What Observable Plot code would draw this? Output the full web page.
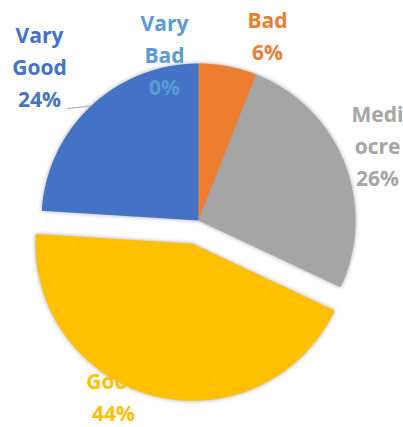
<!DOCTYPE html>
<html><head><meta charset="utf-8">
<script src="https://cdn.jsdelivr.net/npm/d3@7"></script>
<script src="https://cdn.jsdelivr.net/npm/@observablehq/plot@0.6"></script>
<style>html,body{margin:0;padding:0;background:#fff}</style>
</head><body><div id="chart"></div>
<script>
// ---- data ----
const categories = ["Vary Bad", "Bad", "Mediocre", "Good", "Vary Good"];
const values = [0, 6, 26, 44, 24];
const labelTexts = ["Vary\nBad\n0%", "Bad\n6%", "Medi\nocre\n26%", "Good\n44%", "Vary\nGood\n24%"];
const sliceColors = ["#5B9BD5", "#ED7D31", "#A5A5A5", "#FFC000", "#4472C4"];
const explodedCategories = ["Good"];

// ---- layout (pixels) ----
const W = 403, H = 427, R = 157, CX = 198, CY = 220, EXPLODE_PX = 24;
// label block centres, in pixels
const labelCentres = {
  "Vary Bad": [164, 52], "Bad": [267, 33], "Mediocre": [377, 143],
  "Good": [113, 394], "Vary Good": [39, 64]
};
const leaderStarts = {"Vary Good": [67, 108]};

const toUx = px => (px - CX) / R, toUy = py => (CY - py) / R;
const explode = EXPLODE_PX / R;

const arcs = d3.pie().sort(null).value(d => d)(values);
const pts = [];
const labels = [];
const leaders = [];
arcs.forEach((a, i) => {
  const cat = categories[i];
  const mid = (a.startAngle + a.endAngle) / 2;
  const off = explodedCategories.includes(cat) ? explode : 0;
  const ox = off * Math.sin(mid), oy = off * Math.cos(mid);
  pts.push({cat, x: ox, y: oy});
  const n = Math.max(2, Math.ceil((a.endAngle - a.startAngle) / 0.01));
  for (let k = 0; k <= n; k++) {
    const t = a.startAngle + (a.endAngle - a.startAngle) * k / n;
    pts.push({cat, x: ox + Math.sin(t), y: oy + Math.cos(t)});
  }
  pts.push({cat, x: ox, y: oy});
  const [lx, ly] = labelCentres[cat];
  labels.push({cat, x: toUx(lx), y: toUy(ly), text: labelTexts[i]});
  if (leaderStarts[cat]) {
    const [sx, sy] = leaderStarts[cat];
    leaders.push({x1: toUx(sx), y1: toUy(sy), x2: ox + Math.sin(mid), y2: oy + Math.cos(mid)});
  }
});

const chart = Plot.plot({
  width: W, height: H, margin: 0,
  x: {domain: [-CX / R, (W - CX) / R], axis: null},
  y: {domain: [-(H - CY) / R, CY / R], axis: null},
  color: {domain: categories, range: sliceColors},
  style: {background: "white", fontFamily: "'Open Sans', Lato, sans-serif"},
  marks: [
    Plot.line(pts, {x: "x", y: "y", z: "cat", fill: "cat", stroke: null, curve: "linear",
      imageFilter: "drop-shadow(0px 0px 2px rgba(0,0,0,0.35))"}),
    Plot.link(leaders, {x1: "x1", y1: "y1", x2: "x2", y2: "y2", stroke: "#A6A6A6", strokeWidth: 1}),
    Plot.text(labels, {x: "x", y: "y", text: "text", fill: "cat", fontSize: 21, fontWeight: "bold",
      lineHeight: 1.52, textAnchor: "middle", lineAnchor: "middle"})
  ]
});
document.getElementById("chart").appendChild(chart);
</script>
</body></html>
